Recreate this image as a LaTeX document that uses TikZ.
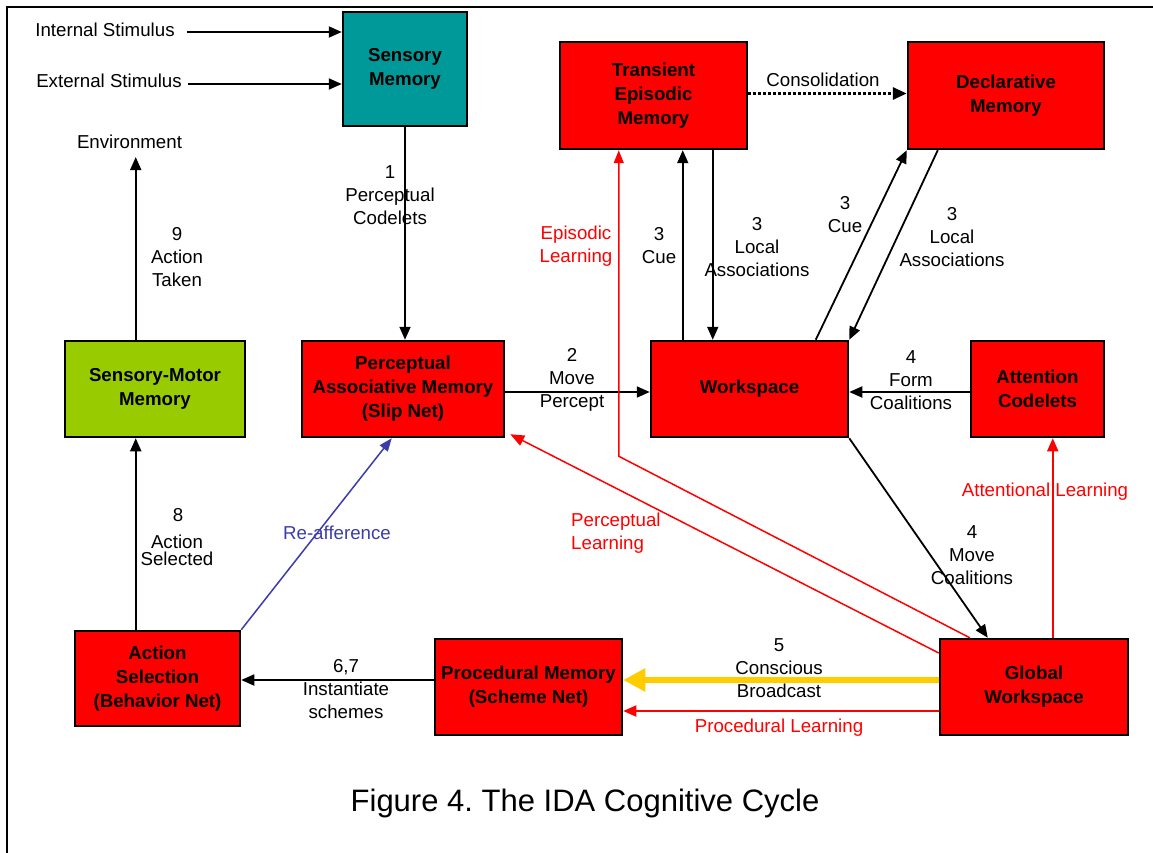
\documentclass[tikz,border=0pt]{standalone}
\usepackage{fontspec}
\setmainfont{Liberation Sans}
\usetikzlibrary{arrows.meta,calc}
\definecolor{smteal}{RGB}{0,153,153}
\definecolor{smgreen}{RGB}{153,204,0}
\definecolor{bcyellow}{RGB}{255,204,0}
\definecolor{rablue}{RGB}{60,60,170}
\definecolor{boxred}{RGB}{255,0,0}
\frenchspacing
\begin{document}
\begin{tikzpicture}[x=1pt,y=-1pt,
  box/.style={draw=black, line width=2.5pt, align=center, inner sep=0pt,
    font=\bfseries\fontsize{18.7}{24}\selectfont},
  lbl/.style={align=center, inner sep=0pt, font=\fontsize{18.7}{23}\selectfont},
  rlbl/.style={lbl, text=boxred},
  arr/.style={line width=1.8pt, -{Triangle[length=13pt,width=11pt]}},
  rarr/.style={line width=1.8pt, draw=boxred, -{Triangle[length=13pt,width=11pt]}},
  rthin/.style={line width=1.5pt, draw=boxred, -{Triangle[length=13pt,width=10pt]}},
]
\useasboundingbox (0,0) rectangle (1153,853);
\fill[white] (0,0) rectangle (1153,853);
\draw[line width=2pt] (7,853) -- (7,7) -- (1153,7);

% boxes
\node[box, fill=smteal, minimum width=124pt, minimum height=114pt] (sm) at (405,69) {Sensory\\Memory};
\node[box, fill=boxred, minimum width=187pt, minimum height=107pt] (tem) at (653.5,95.5) {Transient\\Episodic\\Memory};
\node[box, fill=boxred, minimum width=196pt, minimum height=107pt] (dm) at (1006,95.5) {Declarative\\Memory};
\node[box, fill=smgreen, minimum width=180pt, minimum height=96pt] (smm) at (155,389) {Sensory-Motor\\Memory};
\node[box, fill=boxred, minimum width=202pt, minimum height=96pt] (pam) at (403,389) {Perceptual\\Associative Memory\\(Slip Net)};
\node[box, fill=boxred, minimum width=197pt, minimum height=96pt] (ws) at (749.5,389) {Workspace};
\node[box, fill=boxred, minimum width=133pt, minimum height=96pt] (ac) at (1037.5,389) {Attention\\Codelets};
\node[box, fill=boxred, minimum width=165pt, minimum height=95pt] (as) at (157.5,678.5) {Action\\Selection\\(Behavior Net)};
\node[box, fill=boxred, minimum width=187pt, minimum height=96pt] (pm) at (528.5,687) {Procedural Memory\\(Scheme Net)};
\node[box, fill=boxred, minimum width=188pt, minimum height=96pt] (gw) at (1034,687) {Global\\Workspace};

% free texts
\node[lbl] (is) at (105,30) {Internal Stimulus};
\node[lbl] (es) at (109,81) {External Stimulus};
\node[lbl] (env) at (129.5,142) {Environment};

% stimulus arrows
\draw[arr, shorten <=12pt] (is.east) ++(0,2) coordinate (isa) -- (isa -| sm.west);
\draw[arr, shorten <=6pt] (es.east) ++(0,3) coordinate (esa) -- (esa -| sm.west);

% 1 perceptual codelets
\draw[arr] (sm.south) -- (sm.south |- pam.north);
\node[lbl] (l1) at (390,195) {1\\Perceptual\\Codelets};

% 9 action taken
\coordinate (a9) at ($(smm.north west)+(72,0)$);
\draw[arr, shorten >=8pt] (a9) -- (a9 |- env.south);
\node[lbl] (l9) at (177,257) {9\\Action\\Taken};

% 8 action selected
\coordinate (a8) at ($(as.north west)+(62,0)$);
\draw[arr] (a8) -- (a8 |- smm.south);
\node[lbl, font=\fontsize{18.7}{19}\selectfont] (l8a) at (178,515) {8};
\node[lbl, font=\fontsize{18.7}{17}\selectfont] (l8b) at (177,550) {Action\\Selected};

% re-afference
\draw[line width=1.5pt, draw=rablue, -{Triangle[length=13pt,width=10pt]}] (as.north east) -- ($(pam.south west)+(91,0)$);
\node[lbl, text=rablue] (lra) at (337,533) {Re-afference};

% 2 move percept
\coordinate (a2) at ($(pam.east)+(0,3)$);
\draw[arr] (a2) -- (a2 -| ws.west);
\node[lbl] (l2) at (572,380) {2\\Move\\Percept};

% 4 form coalitions
\coordinate (a4) at ($(ac.west)+(0,3)$);
\draw[arr] (a4) -- (a4 -| ws.east);
\node[lbl] (l4) at (911,380) {4\\Form\\Coalitions};

% 4 move coalitions
\draw[arr] (ws.south east) -- ($(gw.north west)+(49,0)$);
\node[lbl] (l4b) at (972,555) {4\\Move\\Coalitions};

% cue / local associations with TEM
\coordinate (c3a) at ($(ws.north west)+(33,0)$);
\draw[arr] (c3a) -- (c3a |- tem.south);
\coordinate (c3b) at ($(tem.south west)+(154,0)$);
\draw[arr] (c3b) -- (c3b |- ws.north);
\node[lbl] (lcue1) at (659,246) {3\\Cue};
\node[lbl] (lla1) at (757,247) {3\\Local\\Associations};

% cue / local associations with DM
\draw[arr] ($(ws.north west)+(166,0)$) -- (dm.south west);
\draw[arr] ($(dm.south west)+(31,0)$) -- (ws.north east);
\node[lbl] (lcue2) at (845,215) {3\\Cue};
\node[lbl] (lla2) at (952,237) {3\\Local\\Associations};

% consolidation
\coordinate (cons) at ($(tem.east)+(0,-2)$);
\draw[line width=3pt, dash pattern=on 2.5pt off 2.5pt, -{Triangle[length=14pt,width=12pt]}] (cons) -- (cons -| dm.west);
\node[lbl] (lcons) at (823,80) {Consolidation};

% episodic learning
\coordinate (elb) at ($(tem.south west)+(60,306)$);
\draw[rthin] ($(gw.north west)+(31,0)$) -- (elb) -- (elb |- tem.south);
\node[rlbl] (lel) at (576,246) {Episodic\\Learning};

% perceptual learning
\draw[rthin, -{Triangle[length=14pt,width=11pt]}] ($(gw.west)+(0,-34)$) -- ($(pam.south east)+(5,-4)$);
\node[rlbl, align=left, anchor=west] (lpl) at (571,533) {Perceptual\\Learning};

% attentional learning
\coordinate (al) at ($(gw.north west)+(114,0)$);
\draw[rarr] (al) -- (al |- ac.south);
\node[rlbl] (lal) at (1045,492) {Attentional Learning};

% conscious broadcast
\coordinate (cb) at ($(gw.west)+(0,-7)$);
\draw[line width=6pt, draw=bcyellow, -{Triangle[length=22pt,width=22pt]}] (cb) -- (cb -| pm.east);
\node[lbl] (l5) at (779,668) {5\\Conscious\\Broadcast};

% procedural learning
\coordinate (pl) at ($(gw.west)+(0,24)$);
\draw[rarr] (pl) -- (pl -| pm.east);
\node[rlbl] (lpl2) at (779,728) {Procedural Learning};

% 6,7 instantiate schemes
\coordinate (a67) at ($(pm.west)+(0,-7)$);
\draw[arr] (a67) -- (a67 -| as.east);
\node[lbl] (l67) at (346,689) {6,7\\Instantiate\\schemes};

% caption
\node[lbl, font=\fontsize{31}{34}\selectfont] (cap) at (585,803) {Figure 4. The IDA Cognitive Cycle};
\end{tikzpicture}
\end{document}
